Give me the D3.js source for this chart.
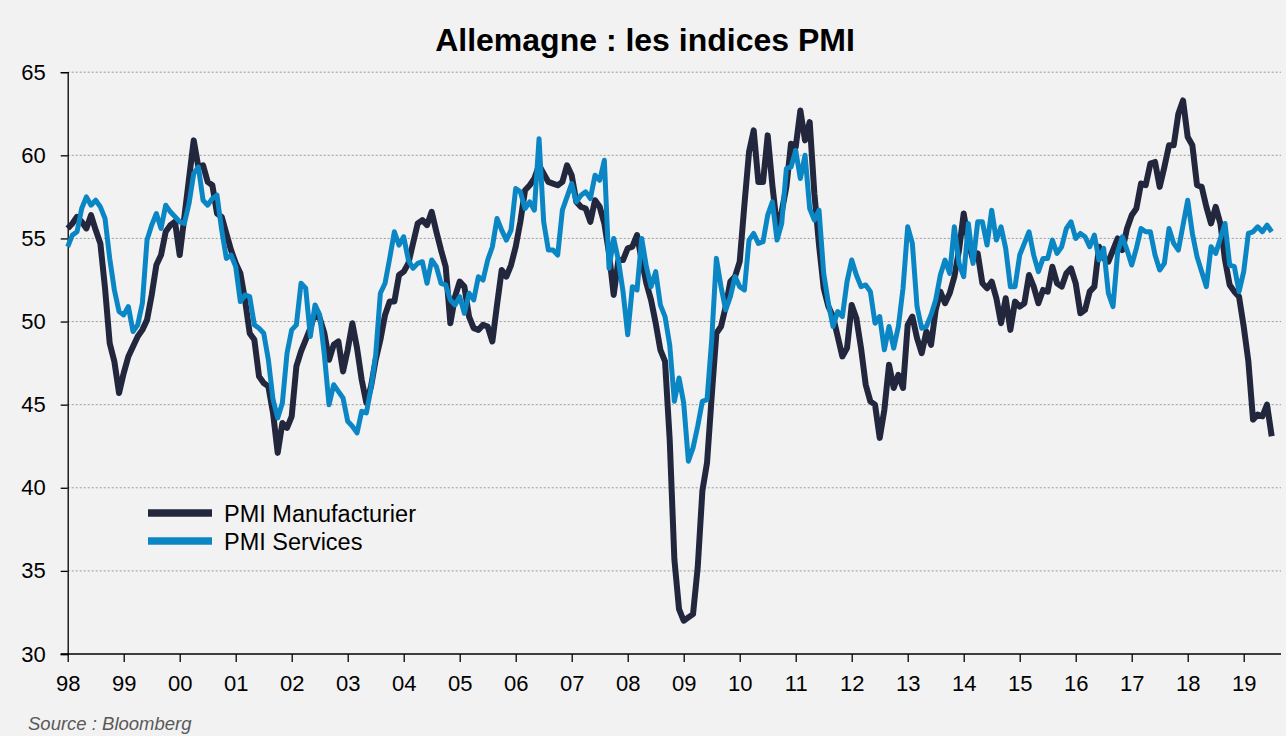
<!DOCTYPE html>
<html><head><meta charset="utf-8">
<script src="https://cdn.jsdelivr.net/npm/d3@7"></script>
<style>html,body{margin:0;padding:0;background:#f2f2f2;}svg{display:block;}</style>
</head><body>
<svg id="chart" width="1286" height="736"></svg>
<script>
// Monthly data, Jan 1998 -> Jul 2019
const yearLabels = ["98","99","00","01","02","03","04","05","06","07","08","09","10","11","12","13","14","15","16","17","18","19"];
const yTicks = [30,35,40,45,50,55,60,65];
const seriesNames = ["PMI Manufacturier","PMI Services"];

const manufacturing = [
55.6,55.9,56.3,56.0,55.6,56.4,55.5,54.7,52.0,48.7,47.6,45.7,
46.9,47.9,48.5,49.1,49.5,50.1,51.6,53.4,54.0,55.4,55.8,56.0,
54.0,56.3,58.6,60.9,59.3,59.4,58.4,58.2,56.5,56.3,55.3,54.3,
53.5,52.9,51.3,49.3,48.9,46.7,46.3,46.1,44.5,42.1,43.9,43.6,
44.3,47.3,48.2,48.9,49.6,50.5,50.2,49.3,47.7,48.6,48.8,47.0,
48.3,49.9,48.4,46.5,45.1,46.1,47.7,48.9,50.4,51.2,51.2,52.8,
53.0,53.5,54.7,55.9,56.1,55.8,56.6,55.4,54.3,53.3,49.9,51.5,
52.4,52.1,50.3,49.6,49.5,49.8,49.7,48.8,51.0,53.1,52.7,53.4,
54.5,56.0,57.9,58.2,58.6,59.4,58.9,58.4,58.3,58.2,58.4,59.4,
58.8,57.2,56.9,56.8,56.0,57.3,56.9,55.9,54.1,51.6,53.7,53.7,
54.4,54.5,55.2,53.7,52.3,51.3,49.9,48.3,47.6,42.9,35.7,32.7,
32.0,32.2,32.4,35.2,39.8,41.5,45.5,49.3,49.7,50.9,52.4,52.7,
53.6,57.0,60.2,61.5,58.4,58.4,61.2,58.2,55.7,56.6,58.1,60.7,
60.5,62.7,60.9,62.0,57.7,54.6,52.0,50.9,50.3,49.1,47.9,48.4,
51.0,50.2,48.4,46.2,45.2,45.0,43.0,44.7,47.4,46.0,46.8,46.0,
49.8,50.3,49.0,48.1,49.4,48.6,50.7,51.8,51.1,51.7,52.7,54.3,
56.5,54.8,53.7,54.1,52.3,52.0,52.4,51.4,49.9,51.4,49.5,51.2,
50.9,51.1,52.8,52.1,51.1,51.9,51.8,53.3,52.3,52.1,52.9,53.2,
52.3,50.5,50.7,51.8,52.1,54.5,53.8,53.6,54.3,55.0,54.3,55.6,
56.4,56.8,58.3,58.2,59.5,59.6,58.1,59.3,60.6,60.6,62.5,63.3,
61.1,60.6,58.2,58.1,56.9,55.9,56.9,55.9,53.7,52.2,51.8,51.5,
49.7,47.6,44.1,44.4,44.3,45.0,43.1
];

const services = [
54.5,55.2,55.4,56.8,57.5,57.0,57.3,56.9,56.2,53.8,51.9,50.6,
50.4,50.9,49.4,49.8,51.1,54.9,55.8,56.5,55.6,57.0,56.6,56.3,
56.0,55.9,57.1,58.9,59.3,57.3,57.0,57.4,57.6,55.5,53.8,54.0,
53.3,51.2,51.6,51.5,49.8,49.6,49.3,47.7,45.3,44.2,45.1,48.1,
49.5,49.8,52.3,52.0,49.1,51.0,50.4,48.0,45.0,46.2,45.8,45.4,
44.0,43.7,43.3,44.6,44.5,46.0,48.0,51.7,52.3,53.8,55.4,54.6,
55.1,53.7,53.2,53.5,53.6,52.3,53.7,53.3,52.3,52.2,51.3,51.0,
51.5,50.5,51.7,51.3,52.7,52.5,53.7,54.5,56.2,55.5,54.9,55.5,
58.0,57.8,56.8,57.2,56.7,61.0,56.0,54.3,54.3,54.0,56.7,57.5,
58.3,57.2,57.6,57.8,57.4,58.8,58.5,59.7,53.2,55.0,53.7,51.8,
49.2,52.1,51.9,55.0,53.3,52.1,53.0,51.0,50.3,48.6,45.2,46.6,
45.1,41.6,42.4,43.7,45.2,45.3,48.9,53.8,52.1,50.7,51.5,52.7,
52.1,51.9,54.9,55.3,54.7,54.8,56.4,57.2,54.9,55.9,59.2,59.3,
60.3,58.6,60.0,56.8,56.1,56.7,52.9,51.1,49.7,50.6,50.3,52.4,
53.7,52.8,52.1,52.2,51.8,49.9,50.3,48.3,49.7,48.4,49.7,52.0,
55.7,54.7,50.9,49.6,49.7,50.4,51.3,52.8,53.7,52.9,55.7,53.5,
52.7,55.9,53.5,56.0,56.0,54.6,56.7,54.9,55.7,54.4,52.1,52.1,
54.0,54.7,55.4,54.0,53.0,53.8,53.8,54.9,54.1,54.5,55.6,56.0,
55.0,55.3,55.1,54.5,55.2,53.7,54.4,51.7,50.9,54.2,55.1,54.3,
53.4,54.4,55.6,55.4,55.4,54.0,53.1,53.5,55.6,54.7,54.3,55.8,
57.3,55.3,53.9,53.0,52.1,54.5,54.1,55.0,55.9,53.4,53.3,51.8,
53.0,55.3,55.4,55.7,55.4,55.8,55.4
];

const W = 1286, H = 736;
const plotLeft = 67.7, plotBottom = 654, plotTop = 72.2, plotRight = 1281;
const pxPerMonth = 56 / 12;
const nMonths = manufacturing.length;

const svg = d3.select("#chart");
const FONT = "Arial, 'Liberation Sans', Helvetica, sans-serif";

svg.append("rect").attr("width", W).attr("height", H).attr("fill", "#f2f2f2");

const x = d3.scaleLinear().domain([0, nMonths - 1]).range([plotLeft, plotLeft + (nMonths - 1) * pxPerMonth]);
const y = d3.scaleLinear().domain([30, 65]).range([plotBottom, plotTop]);

// gridlines
svg.append("g").selectAll("line").data(yTicks.filter(d => d > 30)).join("line")
  .attr("x1", plotLeft).attr("x2", plotRight)
  .attr("y1", d => y(d)).attr("y2", d => y(d))
  .attr("stroke", "#9a9a9a").attr("stroke-width", 1).attr("stroke-dasharray", "2,2");

// title
svg.append("text").attr("x", 645).attr("y", 51).attr("text-anchor", "middle")
  .attr("font-family", FONT).attr("font-weight", "bold").attr("font-size", 32).attr("fill", "#000")
  .text("Allemagne : les indices PMI");

// y axis
const yAxis = svg.append("g").attr("transform", `translate(${plotLeft},0)`)
  .call(d3.axisLeft(y).tickValues(yTicks).tickSize(7).tickPadding(15).tickFormat(d3.format("d")));
yAxis.select(".domain").attr("stroke", "#000").attr("stroke-width", 1.3);
yAxis.selectAll(".tick line").attr("stroke", "#000").attr("stroke-width", 1.3);
yAxis.selectAll("text").attr("font-family", FONT).attr("font-size", 22).attr("fill", "#000");

// x axis
const xTickVals = yearLabels.map((_, i) => i * 12);
const xAxis = svg.append("g").attr("transform", `translate(0,${plotBottom})`)
  .call(d3.axisBottom(x).tickValues(xTickVals).tickSize(8).tickPadding(13).tickFormat((d, i) => yearLabels[i]));
xAxis.select(".domain").remove();
xAxis.append("line").attr("x1", plotLeft - 7).attr("x2", plotRight).attr("y1", 0).attr("y2", 0)
  .attr("stroke", "#000").attr("stroke-width", 1.3);
xAxis.selectAll(".tick line").attr("stroke", "#000").attr("stroke-width", 1.3);
xAxis.selectAll("text").attr("font-family", FONT).attr("font-size", 22).attr("fill", "#000");

// lines
const colors = ["#23273d", "#0a86c4"];
const widths = [6, 5];
const line = d3.line().x((d, i) => x(i)).y(d => y(d)).curve(d3.curveLinear);
[manufacturing, services].forEach((s, k) => {
  svg.append("path").datum(s).attr("d", line)
    .attr("fill", "none").attr("stroke", colors[k]).attr("stroke-width", widths[k])
    .attr("stroke-linejoin", "round").attr("stroke-linecap", "butt");
});

// legend
const lg = svg.append("g");
seriesNames.forEach((name, k) => {
  const yy = 513 + k * 28;
  lg.append("line").attr("x1", 148).attr("x2", 212).attr("y1", yy).attr("y2", yy)
    .attr("stroke", colors[k]).attr("stroke-width", 7.5);
  lg.append("text").attr("x", 224).attr("y", yy + 8.5).attr("font-family", FONT)
    .attr("font-size", 23.5).attr("fill", "#000").text(name);
});

// source
svg.append("text").attr("x", 28).attr("y", 730).attr("font-family", FONT)
  .attr("font-style", "italic").attr("font-size", 18.5).attr("fill", "#595959")
  .text("Source : Bloomberg");
</script>
</body></html>
